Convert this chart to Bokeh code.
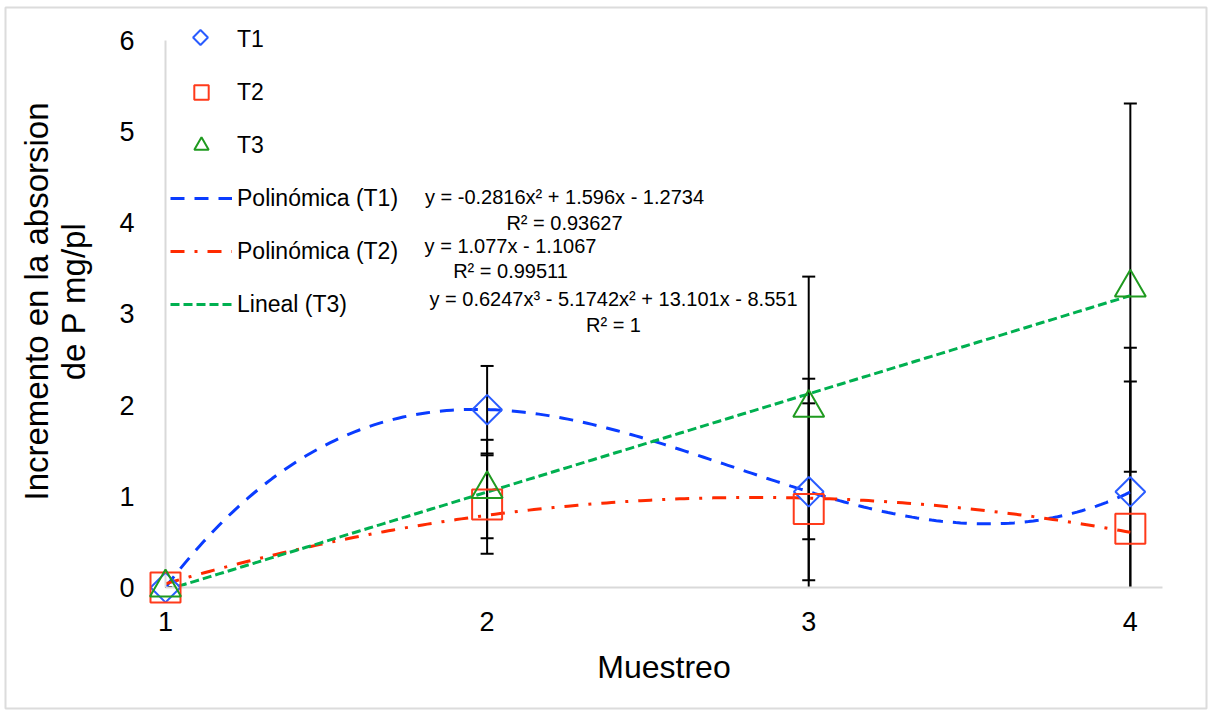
import numpy as np
from bokeh.plotting import figure
from bokeh.models import Range1d, FixedTicker, Legend, LegendItem
from bokeh.core.properties import value
from bokeh.embed import file_html
from bokeh.resources import INLINE

# Sampling events and mean increments per treatment
muestreo = [1, 2, 3, 4]
t1 = [0.0, 1.95, 1.05, 1.05]
t2 = [0.0, 0.91, 0.86, 0.645]
t3 = [0.0, 1.08, 1.97, 3.29]

# Symmetric error amounts
t1_err = [0.0, 0.48, 0.97, 1.21]
t2_err = [0.0, 0.54, 1.43, 1.985]
t3_err = [0.0, 0.54, 1.44, 2.02]

# Trend-line coefficients, highest power first
trend_t1 = [0.6247, -5.1742, 13.101, -8.551]
trend_t2 = [-0.2816, 1.596, -1.2734]
trend_t3 = [1.077, -1.1067]

eq_labels = [
    "y = -0.2816x² + 1.596x - 1.2734\nR² = 0.93627",
    "y = 1.077x - 1.1067\nR² = 0.99511",
    "y = 0.6247x³ - 5.1742x² + 13.101x - 8.551\nR² = 1",
]

x_ticks = [1, 2, 3, 4]
y_ticks = [0, 1, 2, 3, 4, 5, 6]
y_max = 6

FONT = "Liberation Sans"
BLUE_M, RED_M, GREEN_M = "#2a5cff", "#ff3a1a", "#1f9a1f"
BLUE_L, RED_L, GREEN_L = "#0a3cff", "#ff2a00", "#00b050"
AXIS_GRAY = "#d9d9d9"

# page geometry (pixels)
W, H = 1208, 715
FRAME_L, FRAME_R, FRAME_T, FRAME_B = 165, 1162, 15, 587
X_START, X_END = 1.0, 4.1
PX_PER_X = (FRAME_R - FRAME_L) / (X_END - X_START)
PX_PER_Y = 91.17
Y_END = (FRAME_B - FRAME_T) / PX_PER_Y


def to_x(px):
    return X_START + (px - FRAME_L) / PX_PER_X


def to_y(py):
    return (FRAME_B - py) / PX_PER_Y


# the frame reaches a little above 6 so the legend's first row is not cut
p = figure(width=W, height=H,
           x_range=Range1d(X_START, X_END), y_range=Range1d(0, Y_END),
           output_backend="svg", toolbar_location=None,
           min_border_left=FRAME_L, min_border_right=W - FRAME_R,
           min_border_top=FRAME_T, min_border_bottom=H - FRAME_B)
p.background_fill_color = "white"
p.border_fill_color = "white"
p.outline_line_color = None
p.xgrid.grid_line_color = None
p.ygrid.grid_line_color = None

# light outer border around the whole chart
p.quad(left=to_x(5), right=to_x(1206), top=to_y(7), bottom=to_y(708),
       fill_alpha=0, line_color="#dcdcdc", line_width=2, level="overlay")

for ax in (p.xaxis[0], p.yaxis[0]):
    ax.axis_line_color = AXIS_GRAY
    ax.axis_line_width = 2
    ax.major_tick_line_color = None
    ax.minor_tick_line_color = None
    ax.major_label_text_font = FONT
    ax.major_label_text_font_size = "27px"
    ax.major_label_text_color = "black"
    ax.axis_label_text_font = FONT
    ax.axis_label_text_font_style = "normal"
    ax.axis_label_text_color = "black"

# vertical axis line only up to the top tick
p.yaxis.axis_line_color = None
p.line(x=[X_START, X_START], y=[0, y_max], line_color=AXIS_GRAY, line_width=2,
       level="overlay")

p.xaxis.ticker = FixedTicker(ticks=x_ticks)
p.yaxis.ticker = FixedTicker(ticks=y_ticks)
p.xaxis.major_label_standoff = 18
p.yaxis.major_label_standoff = 25
p.xaxis.axis_label = "Muestreo"
p.xaxis.axis_label_text_font_size = "32px"
p.xaxis.axis_label_standoff = 15
p.yaxis.axis_label = "Incremento en la absorsion\nde P mg/pl"
p.yaxis.axis_label_text_font_size = "33px"
p.yaxis.axis_label_standoff = 24
p.yaxis.axis_label_text_line_height = 1.0

# error bars
xs = np.array(muestreo, dtype=float)
for vals, errs in ((t1, t1_err), (t2, t2_err), (t3, t3_err)):
    v = np.array(vals)
    e = np.array(errs)
    p.segment(x0=xs, y0=v - e, x1=xs, y1=v + e, line_color="black", line_width=2)
    p.scatter(x=np.concatenate([xs, xs]), y=np.concatenate([v + e, v - e]),
              marker="dash", size=13, line_color="black", line_width=2)

# trend lines
xf = np.linspace(1, 4, 200)
r_tr1 = p.line(xf, np.polyval(trend_t1, xf), line_color=BLUE_L, line_width=3,
               line_dash="14 10")
r_tr2 = p.line(xf, np.polyval(trend_t2, xf), line_color=RED_L, line_width=3,
               line_dash="14 10 3 10")
r_tr3 = p.line(xf, np.polyval(trend_t3, xf), line_color=GREEN_L, line_width=3,
               line_dash="9 4")

# treatment markers (hollow); T1 diamonds are squares turned 45 degrees
diamond = dict(marker="square", angle=np.pi / 4, fill_alpha=0,
               line_color=BLUE_M, line_width=2, level="overlay")
p.scatter(muestreo, t1, size=21, **diamond)
r_t2 = p.scatter(muestreo, t2, marker="square", size=30,
                 fill_alpha=0, line_color=RED_M, line_width=2, level="overlay")
r_t3 = p.scatter(muestreo, t3, marker="triangle", size=31,
                 fill_alpha=0, line_color=GREEN_M, line_width=2, level="overlay")

# legend swatch for T1 (the legend would draw the turned square unrotated)
r_t1_key = p.scatter(muestreo, t1, marker="square", size=1, fill_alpha=0,
                     line_alpha=0)
p.scatter([to_x(200)], [to_y(37)], size=10.5, **diamond)

# trend-line equations
p.text(x=[to_x(564), to_x(510), to_x(613)], y=[to_y(209.5), to_y(258), to_y(311.5)],
       text=eq_labels,
       text_font=value(FONT), text_font_size=value("20px"), text_color="black",
       text_align="center", text_baseline="middle", text_line_height=1.15)

legend = Legend(items=[
    LegendItem(label="T1", renderers=[r_t1_key]),
    LegendItem(label="T2", renderers=[r_t2]),
    LegendItem(label="T3", renderers=[r_t3]),
    LegendItem(label="Polinómica (T1)", renderers=[r_tr1]),
    LegendItem(label="Polinómica (T2)", renderers=[r_tr2]),
    LegendItem(label="Lineal (T3)", renderers=[r_tr3]),
], location=(5, 265))
legend.glyph_width = 62
legend.glyph_height = 36
legend.label_height = 36
legend.spacing = 17
legend.padding = 0
legend.margin = 0
legend.label_standoff = 5
legend.label_text_font = FONT
legend.label_text_font_size = "23px"
legend.label_text_color = "black"
legend.background_fill_alpha = 0
legend.border_line_color = None
p.add_layout(legend)

open("out.html", "w").write(file_html(p, INLINE))
